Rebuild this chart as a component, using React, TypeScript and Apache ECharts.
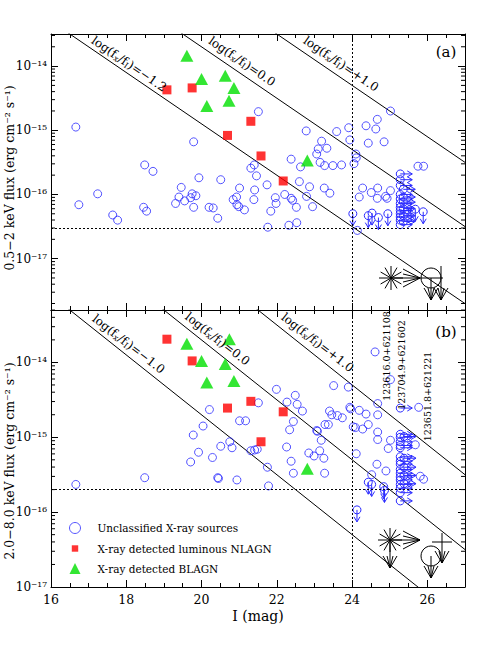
import React, { useEffect, useRef } from 'react';
import * as echarts from 'echarts';

const BLUE = '#2b2bff';
const RED = '#ff0000';
const GREEN = '#00e000';
const FONT = 'DejaVu Serif';

// ---------- data: [I (mag), log10 flux (erg cm^-2 s^-1)] ----------
// Panel (a): 0.5-2 keV
const unclassifiedA: number[][] = [
  [16.66, -14.95], [16.74, -16.16], [17.24, -15.99], [17.64, -16.32], [17.77, -16.4], [18.46, -16.2],
  [18.54, -16.26], [18.49, -15.54], [18.71, -15.64], [19.31, -16.14], [19.4, -16.04], [19.46, -15.89],
  [19.55, -16.1], [19.71, -16.05], [19.75, -15.99], [19.85, -16.02], [19.79, -16.2], [19.79, -15.18],
  [19.93, -15.74], [21.51, -14.71], [22.78, -15.01], [23.19, -15.17], [23.33, -15.28], [23.1, -15.29],
  [23.06, -15.37], [22.38, -15.45], [23.15, -15.5], [23.27, -15.55], [22.63, -15.57], [23.49, -15.55],
  [21.4, -15.54], [21.31, -15.59], [21.46, -15.71], [20.51, -15.77], [21.01, -15.9], [21.41, -15.93],
  [21.74, -15.85], [22.6, -15.8], [22.87, -15.88], [23.26, -15.9], [23.41, -15.98], [22.79, -16.03],
  [22.21, -16.0], [22.38, -16.06], [22.42, -16.09], [21.96, -16.05], [21.98, -16.14], [20.93, -16.04],
  [20.84, -16.08], [20.94, -16.16], [20.99, -16.19], [21.14, -16.24], [21.39, -16.08], [22.52, -16.2],
  [22.95, -16.19], [21.84, -16.26], [20.2, -16.2], [20.31, -16.21], [20.43, -16.37], [21.76, -16.51],
  [22.32, -16.48], [22.53, -16.44], [25.02, -14.7], [24.67, -14.83], [24.37, -14.93], [24.63, -14.98],
  [23.91, -14.96], [23.59, -15.02], [23.94, -15.15], [24.43, -15.2], [24.85, -15.18], [24.1, -15.37],
  [24.11, -15.43], [23.72, -15.54], [24.05, -15.52], [25.75, -15.56], [25.9, -15.56], [24.28, -15.9],
  [24.19, -16.04], [24.51, -15.97], [24.68, -15.9], [24.67, -16.06], [24.89, -16.03], [25.02, -15.94],
  [24.93, -16.06], [24.14, -16.56],
];
// [I, log flux, arrow] arrow: 0 = flux upper limit, 1 = I fainter than value
const limitsA: number[][] = [
  [24.02, -16.3, 0], [24.43, -16.33, 0], [24.7, -16.36, 0], [24.53, -16.29, 0], [24.95, -16.3, 0],
  [25.68, -16.23, 0], [25.89, -16.27, 0],
  [25.28, -15.68, 1], [25.28, -15.77, 1], [25.28, -15.86, 1], [25.28, -16.0, 1], [25.28, -16.07, 1],
  [25.28, -16.14, 1], [25.28, -16.2, 1], [25.28, -16.25, 1], [25.28, -16.3, 1], [25.28, -16.35, 1],
  [25.28, -16.4, 1], [25.28, -16.47, 1], [25.36, -15.92, 1], [25.36, -16.04, 1], [25.36, -16.12, 1],
  [25.36, -16.22, 1], [25.36, -16.33, 1], [25.36, -16.42, 1],
];
const nlagnA: number[][] = [[19.08, -14.37], [19.75, -14.34], [20.69, -15.08], [21.31, -14.86], [21.58, -15.4], [22.17, -15.79]];
const blagnA: number[][] = [[19.61, -13.84], [20.0, -14.2], [20.63, -14.15], [20.86, -14.34], [20.14, -14.62], [20.73, -14.54], [22.81, -15.47]];

// Panel (b): 2.0-8.0 keV
const unclassifiedB: number[][] = [
  [16.66, -15.63], [18.49, -15.54], [19.71, -15.33], [19.78, -14.97], [19.92, -15.2], [20.21, -14.63],
  [20.04, -14.85], [20.29, -15.27], [20.51, -15.12], [20.75, -15.06], [20.81, -15.14], [21.01, -14.78],
  [21.17, -14.78], [21.31, -15.18], [21.41, -15.17], [21.48, -15.16], [21.51, -14.54], [21.99, -14.36],
  [21.75, -15.4], [20.94, -15.57], [20.43, -15.54], [20.45, -15.55], [21.78, -15.65], [22.27, -14.53],
  [22.49, -14.44], [22.54, -14.56], [22.68, -14.65], [22.44, -14.79], [22.34, -14.9], [23.06, -14.91],
  [23.08, -14.92], [23.18, -15.04], [23.28, -14.83], [23.37, -14.83], [23.4, -14.65], [23.46, -14.7],
  [23.51, -14.31], [22.26, -15.13], [22.38, -15.32], [22.44, -15.48], [22.85, -15.21], [22.99, -15.25],
  [23.14, -15.18], [23.25, -15.28], [23.27, -15.48], [23.9, -14.33], [24.61, -13.86], [25.02, -14.23],
  [24.68, -14.55], [23.94, -14.6], [23.96, -14.62], [24.19, -14.64], [24.37, -14.69], [24.68, -14.7],
  [23.61, -14.71], [23.74, -14.74], [24.03, -14.86], [24.09, -14.87], [24.28, -14.89], [24.43, -14.83],
  [24.68, -14.93], [24.68, -15.03], [25.02, -15.04], [24.96, -15.15], [24.11, -15.22], [24.66, -15.36],
  [24.52, -15.5], [24.9, -15.45], [25.68, -15.1], [25.77, -14.6], [25.81, -15.52], [25.9, -15.56],
];
const limitsB: number[][] = [
  [24.43, -15.6, 0], [24.52, -15.63, 0], [24.86, -15.71, 0], [24.84, -15.66, 0], [24.13, -15.97, 0],
  [25.28, -14.61, 1], [25.28, -14.96, 1], [25.28, -15.0, 1], [25.28, -15.06, 1], [25.28, -15.11, 1],
  [25.28, -15.14, 1], [25.28, -15.26, 1], [25.28, -15.32, 1], [25.28, -15.36, 1], [25.28, -15.43, 1],
  [25.28, -15.48, 1], [25.28, -15.53, 1], [25.28, -15.57, 1], [25.28, -15.63, 1], [25.28, -15.68, 1],
  [25.28, -15.74, 1], [25.28, -15.85, 1], [25.38, -14.99, 1], [25.38, -15.28, 1], [25.38, -15.4, 1],
  [25.38, -15.51, 1], [25.38, -15.62, 1],
];
const nlagnB: number[][] = [[19.08, -13.69], [19.75, -13.98], [20.69, -14.61], [21.31, -14.52], [21.58, -15.06], [22.17, -14.66]];
const blagnB: number[][] = [[19.61, -13.75], [20.0, -13.98], [20.63, -14.02], [20.74, -13.69], [20.14, -14.27], [20.86, -14.25], [22.81, -15.42]];

// constant log(fx/fI) lines: log fx = ratio - ZP - 0.4 I
const ratiosA = [-1.2, 0, 1];
const ratiosB = [-1, 0, 1];
const ZP = 5.7;
const iLimit = 24;
const fluxLimitA = -16.52;
const fluxLimitB = -15.7;
const xRange = [16, 27];
const yRangeA = [-17.8, -13.5];
const yRangeB = [-17, -13.3];
const sourceNames = ['123616.0+621108', '123704.9+621602', '123651.8+621221'];

const NAME_U = 'Unclassified X-ray sources';
const NAME_N = 'X-ray detected luminous NLAGN';
const NAME_B = 'X-ray detected BLAGN';

const SUP: Record<string, string> = { '-': '⁻', '0': '⁰', '1': '¹', '2': '²', '3': '³', '4': '⁴', '5': '⁵', '6': '⁶', '7': '⁷', '8': '⁸', '9': '⁹' };
const powLabel = (v: number) => {
  if (Math.abs(v - Math.round(v)) > 1e-6) return '';
  return '10' + String(Math.round(v)).split('').map((c) => SUP[c] || c).join('');
};

const minorLogs = (lo: number, hi: number) => {
  const out: number[][] = [];
  for (let n = Math.floor(lo); n <= Math.ceil(hi); n++) {
    for (let k = 2; k <= 9; k++) {
      const v = n + Math.log10(k);
      if (v > lo + 1e-6 && v < hi - 1e-6) out.push([16, v]);
    }
  }
  return out;
};

const ratioLine = (r: number) => [14, 30].map((I) => [I, r - ZP - 0.4 * I]);

const ratioText = (r: number) => {
  const s = r > 0 ? '+' + r.toFixed(1) : r < 0 ? '−' + Math.abs(r).toFixed(1) : '0.0';
  return `{n|log(f}{s|x}{n|/f}{s|I}{n|)=${s}}`;
};

const tickRender = (params: any, api: any) => {
  const y = api.coord([16, api.value(1)])[1];
  const cs = params.coordSys;
  const st = { stroke: '#000', lineWidth: 1 };
  return {
    type: 'group',
    children: [
      { type: 'line', shape: { x1: cs.x, y1: y, x2: cs.x + 4, y2: y }, style: st },
      { type: 'line', shape: { x1: cs.x + cs.width - 4, y1: y, x2: cs.x + cs.width, y2: y }, style: st },
    ],
  };
};

const limitRender = (params: any, api: any) => {
  const p = api.coord([api.value(0), api.value(1)]);
  const x = p[0], y = p[1];
  const d = api.value(2);
  const st = { stroke: BLUE, lineWidth: 1, fill: 'none' };
  const ch: any[] = [{ type: 'circle', shape: { cx: x, cy: y, r: 4 }, style: st }];
  if (d === 0) {
    ch.push({ type: 'line', shape: { x1: x, y1: y, x2: x, y2: y + 12 }, style: st });
    ch.push({ type: 'polyline', shape: { points: [[x - 3, y + 7], [x, y + 12], [x + 3, y + 7]] }, style: st });
  } else {
    ch.push({ type: 'line', shape: { x1: x, y1: y, x2: x + 12, y2: y }, style: st });
    ch.push({ type: 'polyline', shape: { points: [[x + 7, y - 3], [x + 12, y], [x + 7, y + 3]] }, style: st });
  }
  return { type: 'group', children: ch };
};

const panelSeries = (idx: number, u: number[][], lim: number[][], n: number[][], b: number[][], ratios: number[], fLim: number, yr: number[]) => {
  const xi = idx * 2;
  const yi = idx * 2;
  const out: any[] = [];
  ratios.forEach((r, i) => {
    out.push({
      type: 'line', xAxisIndex: xi, yAxisIndex: yi, data: ratioLine(r), showSymbol: false, symbol: 'none',
      lineStyle: { color: '#000', width: 1 }, clip: true, silent: true, z: 1,
      markLine: i === 0 ? {
        symbol: 'none', silent: true, label: { show: false },
        lineStyle: { color: '#000', type: [2, 2], width: 1 },
        data: [{ xAxis: iLimit }, { yAxis: fLim }],
      } : undefined,
    });
  });
  out.push({
    type: 'custom', xAxisIndex: xi, yAxisIndex: yi, data: minorLogs(yr[0], yr[1]), renderItem: tickRender, silent: true, clip: false, z: 5,
  });
  out.push({
    name: NAME_U, type: 'scatter', xAxisIndex: xi, yAxisIndex: yi, data: u, symbol: 'circle', symbolSize: 8,
    itemStyle: { color: 'rgba(0,0,0,0)', borderColor: BLUE, borderWidth: 1 }, z: 3,
  });
  out.push({ type: 'custom', xAxisIndex: xi, yAxisIndex: yi, data: lim, renderItem: limitRender, silent: true, z: 3 });
  out.push({
    name: NAME_N, type: 'scatter', xAxisIndex: xi, yAxisIndex: yi, data: n, symbol: 'rect', symbolSize: 9,
    itemStyle: { color: RED }, z: 4,
  });
  out.push({
    name: NAME_B, type: 'scatter', xAxisIndex: xi, yAxisIndex: yi, data: b, symbol: 'triangle', symbolSize: [13, 12],
    itemStyle: { color: GREEN }, z: 4,
  });
  return out;
};

const xAxisDef = (gridIndex: number, position: string, labels: boolean) => ({
  gridIndex, type: 'value', position, min: xRange[0], max: xRange[1], interval: 2,
  axisLine: { show: true, lineStyle: { color: '#000', width: 1 } },
  axisTick: { show: true, inside: true, length: 7, lineStyle: { color: '#000' } },
  minorTick: { show: true, splitNumber: 4, length: 4, lineStyle: { color: '#000' } },
  splitLine: { show: false },
  axisLabel: {
    show: labels, color: '#000', fontFamily: FONT, fontSize: 12.5, margin: 6,
    formatter: (v: number) => (v > 26.5 ? '' : String(v)),
  },
});

const yAxisDef = (gridIndex: number, position: string, yr: number[], labels: boolean) => ({
  gridIndex, type: 'value', position, min: yr[0], max: yr[1],
  axisLine: { show: true, lineStyle: { color: '#000', width: 1 } },
  axisTick: { show: true, inside: true, length: 7, lineStyle: { color: '#000' } },
  splitLine: { show: false },
  axisLabel: { show: labels, color: '#000', fontFamily: FONT, fontSize: 12, margin: 4, formatter: powLabel },
});

const L = (x1: number, y1: number, x2: number, y2: number) => ({
  type: 'line', silent: true, shape: { x1, y1, x2, y2 }, style: { stroke: '#000', lineWidth: 1 },
});
const star = (cx: number, cy: number, r: number) =>
  [0, 1, 2, 3, 4, 5].map((i) => {
    const a = (i * Math.PI) / 6;
    return L(cx - r * Math.cos(a), cy - r * Math.sin(a), cx + r * Math.cos(a), cy + r * Math.sin(a));
  });
const pl = (pts: number[][]) => ({ type: 'polyline', silent: true, shape: { points: pts }, style: { stroke: '#000', lineWidth: 1, fill: 'none' } });
const chevRight = (tx: number, ty: number) => [
  pl([[tx - 17, ty - 9], [tx, ty], [tx - 17, ty + 9]]),
  pl([[tx - 17, ty - 4], [tx, ty], [tx - 17, ty + 4]]),
];
const chevDown = (tx: number, ty: number) => [
  pl([[tx - 7, ty - 12], [tx, ty], [tx + 7, ty - 12]]),
  pl([[tx - 3, ty - 12], [tx, ty], [tx + 3, ty - 12]]),
];
const circ = (cx: number, cy: number, r: number) => ({
  type: 'circle', silent: true, shape: { cx, cy, r }, style: { stroke: '#000', lineWidth: 1, fill: 'none' },
});

const richLab = {
  n: { fontFamily: FONT, fontSize: 12, fill: '#000' },
  s: { fontFamily: FONT, fontSize: 8, fill: '#000', padding: [6, 0, 0, 0] },
};
const lineLabel = (x: number, y: number, rot: number, r: number) => ({
  type: 'text', x, y, rotation: rot, silent: true, z: 10,
  style: { text: ratioText(r), rich: richLab, align: 'center', verticalAlign: 'middle', fill: '#000' },
});
const txt = (x: number, y: number, text: string, size: number, rot = 0) => ({
  type: 'text', x, y, rotation: rot, silent: true, z: 10,
  style: { text, fontFamily: FONT, fontSize: size, fill: '#000', align: 'center', verticalAlign: 'middle' },
});

export default function App() {
  const ref = useRef<HTMLDivElement>(null);
  useEffect(() => {
    if (!ref.current) return;
    const chart = echarts.init(ref.current, undefined, { renderer: 'svg' });
    const rotA = -Math.atan(0.687);
    const rotB = -Math.atan(0.778);
    const option: any = {
      animation: false,
      backgroundColor: '#fff',
      textStyle: { fontFamily: FONT },
      grid: [
        { left: 51, top: 34, width: 414, height: 276 },
        { left: 51, top: 310, width: 414, height: 277 },
      ],
      xAxis: [
        xAxisDef(0, 'bottom', false),
        xAxisDef(0, 'top', false),
        xAxisDef(1, 'bottom', true),
        xAxisDef(1, 'top', false),
      ],
      yAxis: [
        yAxisDef(0, 'left', yRangeA, true),
        yAxisDef(0, 'right', yRangeA, false),
        yAxisDef(1, 'left', yRangeB, true),
        yAxisDef(1, 'right', yRangeB, false),
      ],
      legend: {
        orient: 'vertical', left: 64, top: 517, itemGap: 9, itemWidth: 11, itemHeight: 11,
        textStyle: { fontFamily: FONT, fontSize: 10.5, color: '#000', padding: [0, 0, 0, 12] },
        data: [
          { name: NAME_U, icon: 'circle', itemStyle: { color: 'rgba(0,0,0,0)', borderColor: BLUE, borderWidth: 1 } },
          { name: NAME_N, icon: 'path://M0 0M12 12M2.5 2.5H9.5V9.5H2.5Z' },
          { name: NAME_B, icon: 'triangle' },
        ],
        selectedMode: false,
      },
      series: [
        ...panelSeries(0, unclassifiedA, limitsA, nlagnA, blagnA, ratiosA, fluxLimitA, yRangeA),
        ...panelSeries(1, unclassifiedB, limitsB, nlagnB, blagnB, ratiosB, fluxLimitB, yRangeB),
      ],
      graphic: [
        lineLabel(129, 64, rotA, ratiosA[0]),
        lineLabel(242, 61.5, rotA, ratiosA[1]),
        lineLabel(341, 64, rotA, ratiosA[2]),
        lineLabel(128.5, 344, rotB, ratiosB[0]),
        lineLabel(217.5, 339, rotB, ratiosB[1]),
        lineLabel(317.5, 342.5, rotB, ratiosB[2]),
        txt(446, 52, '(a)', 15),
        txt(446, 332, '(b)', 15),
        txt(9.5, 178, '0.5−2 keV flux (erg cm⁻² s⁻¹)', 12.5, Math.PI / 2),
        txt(9.5, 461, '2.0−8.0 keV flux (erg cm⁻² s⁻¹)', 12.5, Math.PI / 2),
        txt(258, 616, 'I (mag)', 14),
        txt(386, 356, sourceNames[0], 9.5, Math.PI / 2),
        txt(401.5, 365, sourceNames[1], 9.5, Math.PI / 2),
        txt(427.5, 396.5, sourceNames[2], 9.5, Math.PI / 2),
        // symbol key, panel (a)
        ...star(391, 278, 12),
        L(391, 278, 420, 278), ...chevRight(420, 278),
        circ(431, 278, 10), L(420, 278, 443, 278),
        L(431, 278, 431, 300), ...chevDown(431, 300),
        L(441, 266, 441, 300), ...chevDown(441, 300),
        // symbol key, panel (b)
        ...star(390, 540, 12),
        L(390, 540, 420, 540), ...chevRight(420, 540),
        L(390, 540, 390, 568), ...chevDown(390, 568),
        circ(431, 556, 10), L(431, 556, 431, 578), ...chevDown(431, 578),
        L(432, 542, 452, 542), L(442, 533, 442, 563), ...chevDown(442, 563),
      ],
    };
    chart.setOption(option);
    return () => chart.dispose();
  }, []);
  return <div ref={ref} style={{ position: 'absolute', left: 0, top: 0, width: 491, height: 653 }} />;
}
